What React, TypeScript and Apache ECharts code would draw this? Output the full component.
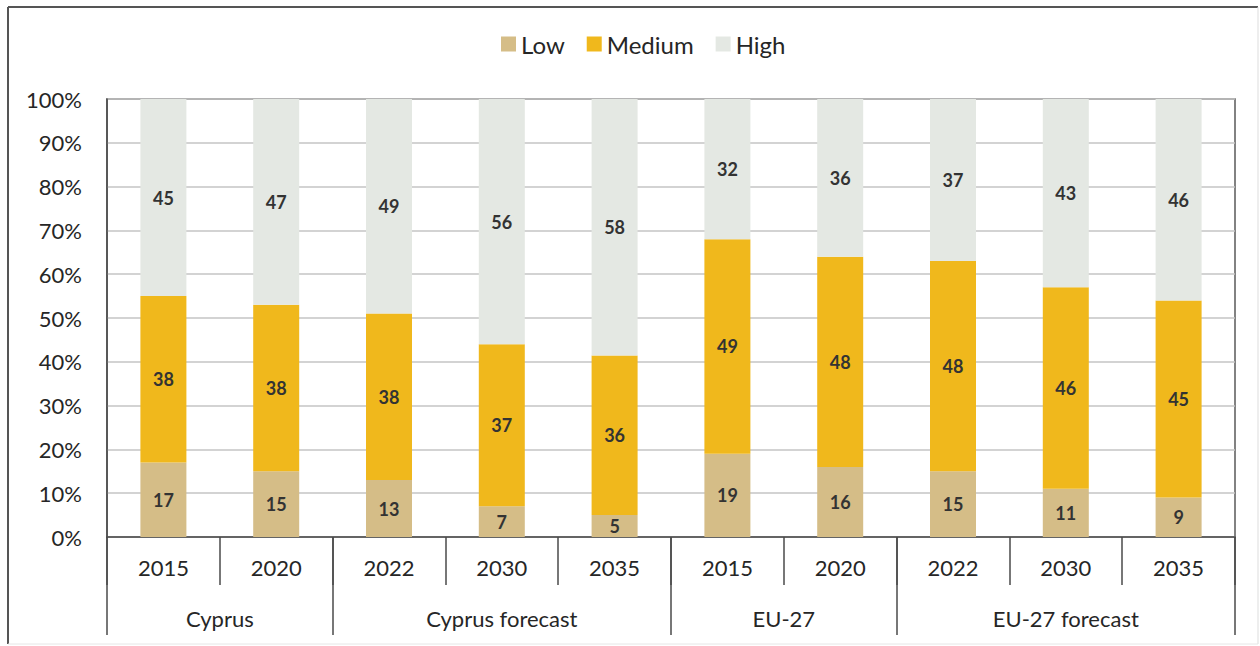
import React, { useEffect, useRef } from "react";
import * as echarts from "echarts";

// Years along the axis, two periods per region and three forecast years each
const years = ["2015", "2020", "2022", "2030", "2035", "2015", "2020", "2022", "2030", "2035"];

// Region groups: name and the category span [start, end) they cover
const groupNames = ["Cyprus", "Cyprus forecast", "EU-27", "EU-27 forecast"];
const groupBounds = [0, 2, 5, 7, 10];

// Shares (in %) for each level
const lowValues = [17, 15, 13, 7, 5, 19, 16, 15, 11, 9];
const mediumValues = [38, 38, 38, 37, 36, 49, 48, 48, 46, 45];
const highValues = [45, 47, 49, 56, 58, 32, 36, 37, 43, 46];

const seriesNames = ["Low", "Medium", "High"];
const seriesColors = ["#D5BD87", "#F0B81C", "#E4E8E3"];

const FONT = "Lato, 'Open Sans', sans-serif";
const TEXT = "#262626";

export default function App() {
  const ref = useRef<HTMLDivElement>(null);

  useEffect(() => {
    if (!ref.current) return;
    const chart = echarts.init(ref.current, null, { renderer: "svg" });

    const raw = [lowValues, mediumValues, highValues];
    const totals = years.map((_, i) => raw.reduce((s, arr) => s + arr[i], 0));

    // 100% stacked: each column is scaled to its own total, labels keep the stated shares
    const series = raw.map((arr, k) => ({
      name: seriesNames[k],
      type: "bar",
      stack: "share",
      barWidth: 46,
      itemStyle: { color: seriesColors[k] },
      label: {
        show: true,
        position: "inside",
        fontFamily: FONT,
        fontSize: 18,
        fontWeight: "bold",
        color: "#333333",
        formatter: (p: any) => String(p.data.raw),
      },
      emphasis: { disabled: true },
      data: arr.map((v, i) => ({ value: (v / totals[i]) * 100, raw: v })),
    }));

    const groupCenters = groupNames.map((_, g) => (groupBounds[g] + groupBounds[g + 1]) / 2);

    chart.setOption({
      animation: false,
      backgroundColor: "#ffffff",
      textStyle: { fontFamily: FONT },
      legend: {
        top: 27,
        left: 496,
        icon: "rect",
        itemWidth: 15,
        itemHeight: 15,
        itemGap: 22,
        textStyle: { fontFamily: FONT, fontSize: 24, color: TEXT },
        data: seriesNames,
      },
      grid: {
        left: 107,
        top: 99,
        right: 25,
        bottom: 109,
        show: true,
        borderColor: "#5a5a5a",
        borderWidth: 1.5,
        containLabel: false,
      },
      xAxis: [
        {
          type: "category",
          data: years,
          position: "bottom",
          axisLine: { show: true, lineStyle: { color: "#4a4a4a", width: 1.5 } },
          axisTick: { show: true, interval: 0, length: 48, lineStyle: { color: "#4a4a4a", width: 1.5 } },
          axisLabel: { interval: 0, margin: 19, fontFamily: FONT, fontSize: 22, color: TEXT },
          splitLine: { show: false },
        },
        {
          type: "value",
          min: 0,
          max: 10,
          position: "bottom",
          axisLine: { show: false },
          splitLine: { show: false },
          axisTick: {
            show: true,
            length: 98,
            customValues: groupBounds,
            lineStyle: { color: "#4a4a4a", width: 1.5 },
          },
          axisLabel: {
            show: true,
            margin: 70,
            customValues: groupCenters,
            fontFamily: FONT,
            fontSize: 22,
            color: TEXT,
            formatter: (v: number) => {
              const idx = groupCenters.findIndex((c) => Math.abs(c - v) < 1e-6);
              return idx >= 0 ? groupNames[idx] : "";
            },
          },
        },
      ],
      yAxis: {
        type: "value",
        min: 0,
        max: 100,
        interval: 10,
        axisLine: { show: true, lineStyle: { color: "#4a4a4a", width: 1.5 } },
        axisTick: { show: false },
        axisLabel: { margin: 25, fontFamily: FONT, fontSize: 22, color: TEXT, formatter: "{value}%" },
        splitLine: { show: true, lineStyle: { color: "#c4c4c4", width: 1.5 } },
      },
      graphic: [
        // frame around the figure: darker top/left edges, faint right/bottom edges
        { type: "line", shape: { x1: 8, y1: 7, x2: 1258, y2: 7 }, style: { stroke: "#555555", lineWidth: 2 } },
        { type: "line", shape: { x1: 8, y1: 7, x2: 8, y2: 644 }, style: { stroke: "#555555", lineWidth: 2 } },
        { type: "line", shape: { x1: 1258, y1: 7, x2: 1258, y2: 644 }, style: { stroke: "#dddddd", lineWidth: 1 } },
        { type: "line", shape: { x1: 8, y1: 644, x2: 1258, y2: 644 }, style: { stroke: "#e6e6e6", lineWidth: 1 } },
      ],
      series,
    });

    return () => chart.dispose();
  }, []);

  return (
    <div
      ref={ref}
      style={{ position: "absolute", left: 0, top: 0, width: 1260, height: 646 }}
    />
  );
}
